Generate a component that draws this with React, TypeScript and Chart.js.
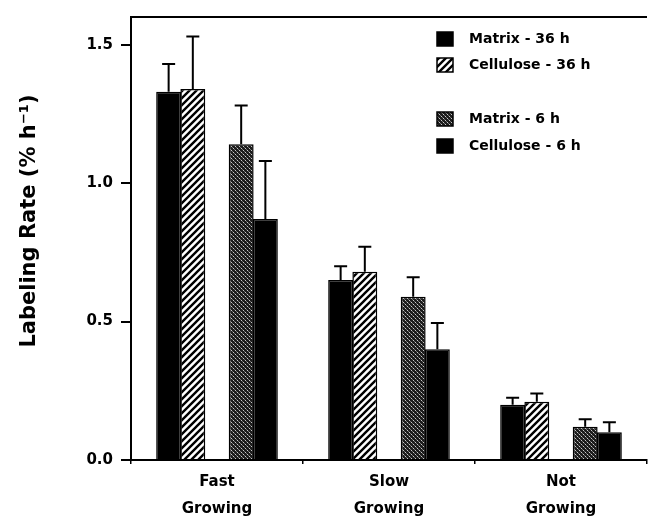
import React, { useEffect, useRef } from 'react';
import { Chart, registerables } from 'chart.js';

Chart.register(...registerables);

const categories: string[][] = [['Fast', 'Growing'], ['Slow', 'Growing'], ['Not', 'Growing']];
const seriesLabels = ['Matrix - 36 h', 'Cellulose - 36 h', 'Matrix - 6 h', 'Cellulose - 6 h'];
const matrix36 = [1.33, 0.65, 0.2];
const cellulose36 = [1.34, 0.68, 0.21];
const matrix6 = [1.14, 0.59, 0.12];
const cellulose6 = [0.87, 0.4, 0.1];
const matrix36Err = [0.1, 0.05, 0.025];
const cellulose36Err = [0.19, 0.09, 0.03];
const matrix6Err = [0.14, 0.07, 0.027];
const cellulose6Err = [0.21, 0.095, 0.036];
const yTicks = [0, 0.5, 1.0, 1.5];
const yMax = 1.6;
const yTitle = 'Labeling Rate (% h\u207B\u00B9)';

const FONT = 'DejaVu Sans';

function makeHatch(): CanvasPattern | string {
  const s = 7;
  const c = document.createElement('canvas');
  c.width = s;
  c.height = s;
  const ctx = c.getContext('2d');
  if (!ctx) return '#fff';
  ctx.fillStyle = '#fff';
  ctx.fillRect(0, 0, s, s);
  ctx.strokeStyle = '#000';
  ctx.lineWidth = 2.4;
  ctx.beginPath();
  ctx.moveTo(-2, 2);
  ctx.lineTo(2, -2);
  ctx.moveTo(-1, s + 1);
  ctx.lineTo(s + 1, -1);
  ctx.moveTo(s - 2, s + 2);
  ctx.lineTo(s + 2, s - 2);
  ctx.stroke();
  return ctx.createPattern(c, 'repeat') || '#fff';
}

function makeStipple(): CanvasPattern | string {
  const s = 4;
  const c = document.createElement('canvas');
  c.width = s;
  c.height = s;
  const ctx = c.getContext('2d');
  if (!ctx) return '#333';
  ctx.fillStyle = '#1c1c1c';
  ctx.fillRect(0, 0, s, s);
  ctx.fillStyle = '#c8c8c8';
  ctx.fillRect(1, 0, 1, 1);
  ctx.fillRect(3, 2, 1, 1);
  ctx.fillStyle = '#707070';
  ctx.fillRect(0, 3, 1, 1);
  ctx.fillRect(2, 1, 1, 1);
  return ctx.createPattern(c, 'repeat') || '#333';
}

export default function App() {
  const ref = useRef<HTMLCanvasElement | null>(null);

  useEffect(() => {
    if (!ref.current) return;
    const hatch = makeHatch();
    const stipple = makeStipple();
    const errs: (number[] | null)[] = [matrix36Err, cellulose36Err, null, matrix6Err, cellulose6Err];

    const errorPlugin = {
      id: 'errorBars',
      afterDatasetsDraw(chart: any) {
        const ctx = chart.ctx;
        const yScale = chart.scales.y;
        ctx.save();
        ctx.strokeStyle = '#000';
        ctx.lineWidth = 2;
        chart.data.datasets.forEach((ds: any, i: number) => {
          const e = errs[i];
          if (!e) return;
          const meta = chart.getDatasetMeta(i);
          meta.data.forEach((el: any, j: number) => {
            const v = ds.data[j];
            if (v == null) return;
            const yTop = yScale.getPixelForValue(v + e[j]);
            const x = el.x;
            ctx.beginPath();
            ctx.moveTo(x, el.y);
            ctx.lineTo(x, yTop);
            ctx.moveTo(x - 6.5, yTop);
            ctx.lineTo(x + 6.5, yTop);
            ctx.stroke();
          });
        });
        ctx.restore();
      },
    };

    const decorPlugin = {
      id: 'decor',
      afterDraw(chart: any) {
        const ctx = chart.ctx;
        const area = chart.chartArea;
        ctx.save();
        // top frame line
        ctx.strokeStyle = '#000';
        ctx.lineWidth = 2;
        ctx.beginPath();
        ctx.moveTo(area.left - 1, area.top);
        ctx.lineTo(area.right, area.top);
        ctx.stroke();

        // y title
        ctx.fillStyle = '#000';
        ctx.font = `bold 21px "${FONT}"`;
        ctx.textAlign = 'center';
        ctx.textBaseline = 'middle';
        ctx.save();
        ctx.translate(30, 221);
        ctx.rotate(-Math.PI / 2);
        ctx.fillText(yTitle, 0, 0);
        ctx.restore();

        // legend
        const items = [
          { ds: 0, y: 39 },
          { ds: 1, y: 65 },
          { ds: 3, y: 119 },
          { ds: 4, y: 146 },
        ];
        ctx.font = `bold 14px "${FONT}"`;
        ctx.textAlign = 'left';
        items.forEach((it) => {
          const ds = chart.data.datasets[it.ds];
          ctx.fillStyle = ds.backgroundColor;
          ctx.fillRect(437, it.y - 7, 16, 14);
          ctx.lineWidth = 1.5;
          ctx.strokeStyle = '#000';
          ctx.strokeRect(437, it.y - 7, 16, 14);
          ctx.fillStyle = '#000';
          ctx.fillText(ds.label, 469, it.y);
        });
        ctx.restore();
      },
    };

    const bar = (label: string, data: (number | null)[], bg: any) => ({
      label,
      data,
      backgroundColor: bg,
      borderColor: '#000',
      borderWidth: 1.5,
      categoryPercentage: 0.703,
      barPercentage: 1.03,
    });

    const chart = new Chart(ref.current, {
      type: 'bar',
      data: {
        labels: categories,
        datasets: [
          bar(seriesLabels[0], matrix36, '#000'),
          bar(seriesLabels[1], cellulose36, hatch),
          bar('', categories.map(() => null), 'rgba(0,0,0,0)'),
          bar(seriesLabels[2], matrix6, stipple),
          bar(seriesLabels[3], cellulose6, '#000'),
        ] as any,
      },
      options: {
        animation: false,
        responsive: false,
        layout: { padding: { left: 0, right: 1, top: 13, bottom: 0 } },
        plugins: {
          legend: { display: false },
          tooltip: { enabled: false },
        },
        scales: {
          x: {
            afterFit: (s: any) => {
              s.height = 65;
            },
            border: { display: true, color: '#000', width: 2 },
            grid: {
              offset: true,
              drawOnChartArea: false,
              drawTicks: true,
              tickLength: 4,
              color: '#000',
              lineWidth: 1.5,
            },
            ticks: {
              color: '#000',
              font: { family: FONT, weight: 'bold', size: 15, lineHeight: 1.8 },
              padding: 5,
              maxRotation: 0,
              autoSkip: false,
            },
          },
          y: {
            min: 0,
            max: yMax,
            afterBuildTicks: (s: any) => {
              s.ticks = yTicks.map((v) => ({ value: v }));
            },
            afterFit: (s: any) => {
              s.width = 131;
            },
            border: { display: true, color: '#000', width: 2 },
            grid: {
              drawOnChartArea: false,
              drawTicks: true,
              tickLength: 10,
              color: '#000',
              lineWidth: 2,
            },
            ticks: {
              color: '#000',
              font: { family: FONT, weight: 'bold', size: 15 },
              padding: 8,
              callback: (v: any) => Number(v).toFixed(1),
            },
          },
        },
      } as any,
      plugins: [errorPlugin, decorPlugin],
    });
    return () => chart.destroy();
  }, []);

  return (
    <div style={{ position: 'absolute', left: 0, top: 0, width: 648, height: 525, background: '#fff' }}>
      <canvas ref={ref} width={648} height={525} style={{ display: 'block' }} />
    </div>
  );
}
